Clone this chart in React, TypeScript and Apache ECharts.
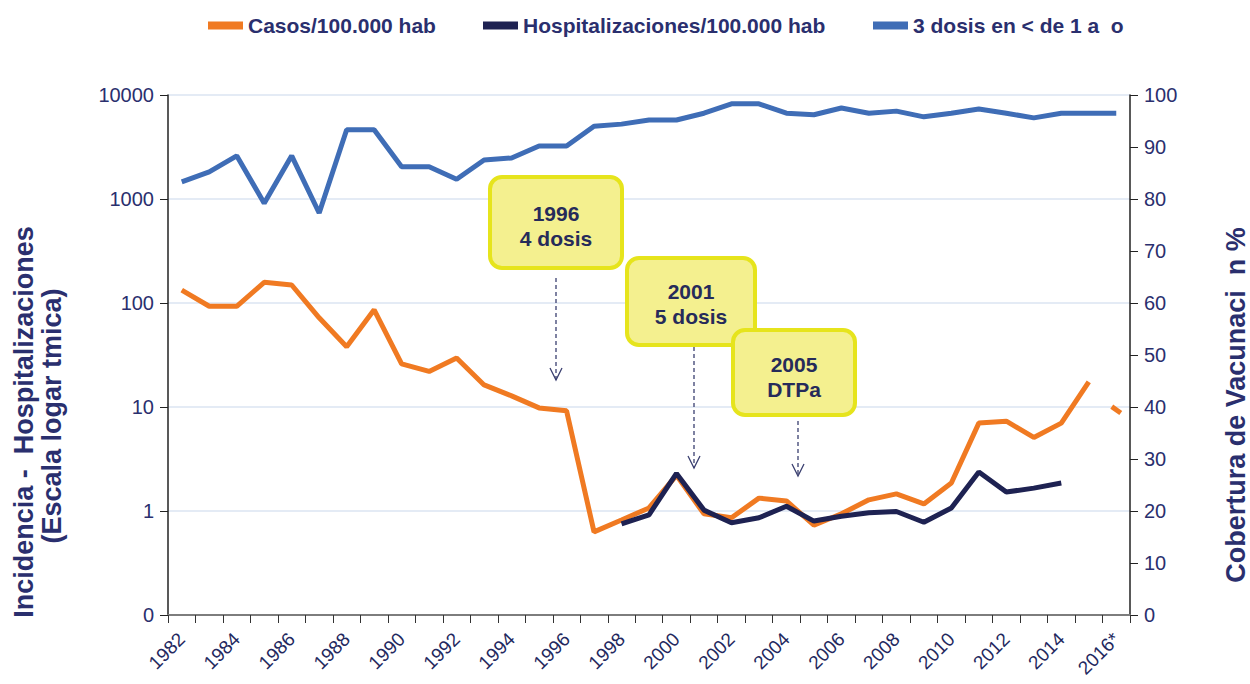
import React, { useEffect, useRef } from "react";
import * as echarts from "echarts";

const years = [
  "1982","1983","1984","1985","1986","1987","1988","1989","1990","1991",
  "1992","1993","1994","1995","1996","1997","1998","1999","2000","2001",
  "2002","2003","2004","2005","2006","2007","2008","2009","2010","2011",
  "2012","2013","2014","2015","2016*",
];

// Casos/100.000 hab (1982-2015)
const casos = [
  133, 93, 93, 158, 149, 72, 38, 86, 26, 22,
  29.6, 16.3, 12.8, 9.8, 9.2, 0.63, 0.82, 1.07, 2.2, 0.94,
  0.86, 1.33, 1.25, 0.73, 0.94, 1.28, 1.46, 1.17, 1.86, 7.0,
  7.3, 5.1, 7.0, 17.4, null,
];
// 2016 provisional value
const casos2016 = [
  null, null, null, null, null, null, null, null, null, null,
  null, null, null, null, null, null, null, null, null, null,
  null, null, null, null, null, null, null, null, null, null,
  null, null, null, null, 9.4,
];

// Hospitalizaciones/100.000 hab (1998-2014)
const hosp = [
  null, null, null, null, null, null, null, null, null, null,
  null, null, null, null, null, null, 0.75, 0.92, 2.3, 1.02,
  0.77, 0.86, 1.11, 0.8, 0.89, 0.96, 0.99, 0.78, 1.07, 2.37,
  1.52, 1.66, 1.86, null, null,
];

// 3 dosis en < de 1 año (%)
const cobertura = [
  83.3, 85.2, 88.3, 79.2, 88.3, 77.3, 93.3, 93.3, 86.2, 86.2,
  83.8, 87.5, 87.9, 90.2, 90.2, 94.0, 94.4, 95.2, 95.2, 96.5,
  98.3, 98.3, 96.5, 96.2, 97.5, 96.5, 96.9, 95.8, 96.5, 97.3,
  96.5, 95.6, 96.5, 96.5, 96.5,
];

const leftTicks = ["0", "1", "10", "100", "1000", "10000"];
const seriesNames = ["Casos/100.000 hab", "Hospitalizaciones/100.000 hab", "3 dosis en < de 1 a  o"];

const NAVY = "#2a2f6e";
const ORANGE = "#f07a22";
const DARK = "#1e2252";
const BLUE = "#3f6db6";
const FONT = "'Liberation Sans', Arial, sans-serif";

const boxes = [
  { x: 490, y: 177, w: 132, h: 91, l1: "1996", l2: "4 dosis", ty: 226 },
  { x: 627, y: 258, w: 128, h: 87, l1: "2001", l2: "5 dosis", ty: 304 },
  { x: 733, y: 330, w: 122, h: 85, l1: "2005", l2: "DTPa", ty: 377 },
];
const arrows = [
  { x: 556, y1: 278, y2: 380 },
  { x: 694, y1: 347, y2: 468 },
  { x: 798, y1: 421, y2: 476 },
];

export default function App() {
  const ref = useRef<HTMLDivElement>(null);
  useEffect(() => {
    if (!ref.current) return;
    const chart = echarts.init(ref.current, undefined, { renderer: "svg" });
    const graphics: any[] = [];
    const titles = [
      { text: "Incidencia -  Hospitalizaciones", x: 24, y: 422 },
      { text: "(Escala logar tmica)", x: 52, y: 416 },
      { text: "Cobertura de Vacunaci  n %", x: 1236, y: 405 },
    ];
    titles.forEach((t) => {
      graphics.push({
        type: "text",
        x: t.x,
        y: t.y,
        rotation: Math.PI / 2,
        style: {
          text: t.text,
          font: "bold 27px " + FONT,
          fill: NAVY,
          align: "center",
          verticalAlign: "middle",
          lineHeight: 27,
        },
      });
    });
    arrows.forEach((a) => {
      graphics.push({
        type: "line",
        shape: { x1: a.x, y1: a.y1, x2: a.x, y2: a.y2 },
        style: { stroke: "#3a3f70", lineWidth: 1.3, lineDash: [4, 3] },
        z: 20,
      });
      graphics.push({
        type: "polyline",
        shape: { points: [[a.x - 6, a.y2 - 12], [a.x, a.y2], [a.x + 6, a.y2 - 12]] },
        style: { stroke: "#3a3f70", lineWidth: 1.3, fill: null },
        z: 20,
      });
    });
    boxes.forEach((b, i) => {
      graphics.push({
        type: "rect",
        shape: { x: b.x, y: b.y, width: b.w, height: b.h, r: 12 },
        style: { fill: "#f4f08f", stroke: "#e6e41c", lineWidth: 4 },
        z: 30 + i * 2,
      });
      graphics.push({
        type: "text",
        x: b.x + b.w / 2,
        y: b.ty,
        style: {
          text: b.l1 + "\n" + b.l2,
          font: "bold 21px " + FONT,
          fill: "#262b5a",
          align: "center",
          verticalAlign: "middle",
          lineHeight: 25,
        },
        z: 31 + i * 2,
      });
    });

    const legendBase = {
      top: 10,
      itemWidth: 35,
      itemHeight: 8,
      icon: "rect",
      textStyle: { fontFamily: FONT, fontWeight: "bold", fontSize: 21, color: NAVY },
    };

    chart.setOption({
      animation: false,
      backgroundColor: "#ffffff",
      legend: [
        { ...legendBase, data: [seriesNames[0]], left: 203 },
        { ...legendBase, data: [seriesNames[1]], left: 478 },
        { ...legendBase, data: [seriesNames[2]], left: 868 },
      ],
      grid: {
        left: 168,
        right: 120,
        top: 95,
        bottom: 69,
        containLabel: false,
        outerBoundsMode: "none",
      },
      xAxis: {
        type: "category",
        data: years,
        boundaryGap: true,
        axisLine: { lineStyle: { color: "#7d7d7d", width: 2 } },
        axisTick: { show: true, interval: 0, length: 8, lineStyle: { color: "#333" } },
        axisLabel: {
          interval: 1,
          rotate: 45,
          fontSize: 19,
          fontFamily: FONT,
          color: "#23285e",
          margin: 21,
        },
        splitLine: { show: false },
      },
      yAxis: [
        {
          type: "log",
          logBase: 10,
          min: 0.1,
          max: 10000,
          axisLine: { show: true, lineStyle: { color: "#222", width: 1.5 } },
          axisTick: { show: true, length: 8, lineStyle: { color: "#222" } },
          axisLabel: {
            fontSize: 20,
            fontFamily: FONT,
            color: NAVY,
            margin: 14,
            formatter: (v: number) => {
              if (v < 0.5) return leftTicks[0];
              const idx = Math.round(Math.log10(v)) + 1;
              return leftTicks[idx] ?? String(v);
            },
          },
          splitLine: { show: true, lineStyle: { color: "#e4ebf5", width: 2 } },
        },
        {
          type: "value",
          min: 0,
          max: 100,
          interval: 10,
          position: "right",
          axisLine: { show: true, lineStyle: { color: "#222", width: 1.5 } },
          axisTick: { show: true, inside: false, length: 8, lineStyle: { color: "#222" } },
          axisLabel: { fontSize: 20, fontFamily: FONT, color: NAVY, margin: 14 },
          splitLine: { show: false },
        },
      ],
      series: [
        {
          name: seriesNames[0],
          type: "line",
          yAxisIndex: 0,
          data: casos,
          showSymbol: false,
          lineStyle: { color: ORANGE, width: 5 },
          itemStyle: { color: ORANGE },
          z: 5,
        },
        {
          name: "Casos 2016",
          type: "line",
          yAxisIndex: 0,
          data: casos2016,
          symbol: "rect",
          symbolSize: [11, 5],
          symbolRotate: -35,
          showSymbol: true,
          itemStyle: { color: ORANGE },
          lineStyle: { color: ORANGE, width: 4, type: "dashed" },
          z: 5,
        },
        {
          name: seriesNames[1],
          type: "line",
          yAxisIndex: 0,
          data: hosp,
          showSymbol: false,
          lineStyle: { color: DARK, width: 5 },
          itemStyle: { color: DARK },
          z: 6,
        },
        {
          name: seriesNames[2],
          type: "line",
          yAxisIndex: 1,
          data: cobertura,
          showSymbol: false,
          lineStyle: { color: BLUE, width: 5 },
          itemStyle: { color: BLUE },
          z: 4,
        },
      ],
      graphic: graphics,
    });
    return () => chart.dispose();
  }, []);
  return <div ref={ref} style={{ width: 1250, height: 684, position: "absolute", left: 0, top: 0 }} />;
}
